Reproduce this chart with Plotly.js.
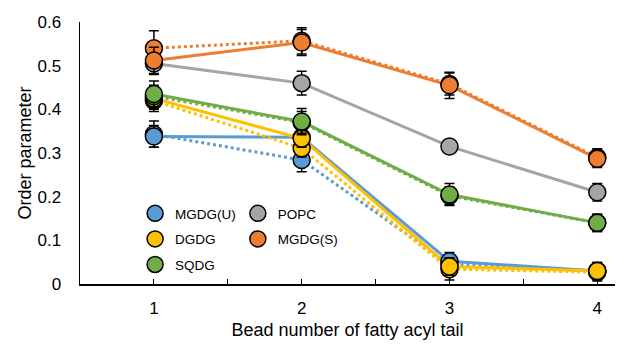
<!DOCTYPE html>
<html>
<head>
<meta charset="utf-8">
<script src="https://cdn.plot.ly/plotly-3.0.1.min.js"></script>
<style>html,body{margin:0;padding:0;background:#fff}#chart{width:630px;height:346px}</style>
</head>
<body>
<div id="chart"></div>
<script>
var beads = [1, 2, 3, 4];
var xTickVals = [1, 2, 3, 4];
var xTickText = ['1', '2', '3', '4'];

var names = ['MGDG(U)', 'DGDG', 'SQDG', 'POPC', 'MGDG(S)'];
var colors = ['#5B9BD5', '#FFC000', '#70AD47', '#A5A5A5', '#ED7D31'];

var mgdgU_solid = [0.338, 0.336, 0.052, 0.030];
var mgdgU_solidErr = [0.025, 0.020, 0.020, 0.015];
var mgdgU_dot = [0.343, 0.284, 0.045, 0.030];
var mgdgU_dotErr = [0.030, 0.027, 0.020, 0.015];

var dgdg_solid = [0.425, 0.333, 0.040, 0.030];
var dgdg_solidErr = [0.025, 0.020, 0.020, 0.020];
var dgdg_dot = [0.420, 0.311, 0.034, 0.027];
var dgdg_dotErr = [0.025, 0.020, 0.025, 0.020];

var sqdg_solid = [0.435, 0.372, 0.205, 0.140];
var sqdg_solidErr = [0.030, 0.030, 0.025, 0.020];
var sqdg_dot = [0.430, 0.370, 0.202, 0.140];
var sqdg_dotErr = [0.025, 0.025, 0.020, 0.020];

var popc_solid = [0.505, 0.460, 0.315, 0.210];
var popc_solidErr = [0.025, 0.027, 0.010, 0.020];

var mgdgS_solid = [0.512, 0.553, 0.455, 0.287];
var mgdgS_solidErr = [0.030, 0.030, 0.030, 0.020];
var mgdgS_dot = [0.540, 0.557, 0.458, 0.290];
var mgdgS_dotErr = [0.040, 0.030, 0.025, 0.020];

var series = [
  {solid: mgdgU_solid, solidErr: mgdgU_solidErr, dot: mgdgU_dot, dotErr: mgdgU_dotErr, legend: 'legend'},
  {solid: dgdg_solid, solidErr: dgdg_solidErr, dot: dgdg_dot, dotErr: dgdg_dotErr, legend: 'legend'},
  {solid: sqdg_solid, solidErr: sqdg_solidErr, dot: sqdg_dot, dotErr: sqdg_dotErr, legend: 'legend'},
  {solid: popc_solid, solidErr: popc_solidErr, dot: null, dotErr: null, legend: 'legend2'},
  {solid: mgdgS_solid, solidErr: mgdgS_solidErr, dot: mgdgS_dot, dotErr: mgdgS_dotErr, legend: 'legend2'}
];

var traces = [];
// lines
series.forEach(function (s, i) {
  if (s.dot) {
    traces.push({x: beads, y: s.dot, mode: 'lines', type: 'scatter', showlegend: false, hoverinfo: 'skip',
      line: {color: colors[i], width: 3, dash: 'dot'}});
  }
  traces.push({x: beads, y: s.solid, mode: 'lines', type: 'scatter', showlegend: false, hoverinfo: 'skip',
    line: {color: colors[i], width: 3}});
});
// markers
series.forEach(function (s, i) {
  var mk = {color: colors[i], size: 17, line: {color: '#000', width: 1.5}};
  var eb = function (arr) { return {type: 'data', array: arr, visible: true, color: '#000', thickness: 1.5, width: 5}; };
  if (s.dot) {
    traces.push({x: beads, y: s.dot, mode: 'markers', type: 'scatter', showlegend: false,
      marker: mk, error_y: eb(s.dotErr)});
  }
  traces.push({x: beads, y: s.solid, mode: 'markers', type: 'scatter', name: names[i],
    legend: s.legend, legendgroup: 'g' + i,
    marker: mk, error_y: eb(s.solidErr)});
});

var legendBase = {
  orientation: 'v', xanchor: 'left', yanchor: 'top', itemwidth: 30,
  traceorder: 'grouped', tracegroupgap: 5,
  font: {size: 13.5, color: '#000', family: 'Liberation Sans, Arial, sans-serif'},
  bgcolor: 'rgba(0,0,0,0)'
};

var layout = {
  width: 630, height: 346,
  margin: {l: 80, r: 15, t: 22, b: 62},
  paper_bgcolor: '#fff', plot_bgcolor: '#fff',
  font: {family: 'Liberation Sans, Arial, sans-serif', color: '#000', size: 17},
  showlegend: true,
  legend: Object.assign({}, legendBase, {x: 0.103, y: 0.328}),
  legend2: Object.assign({}, legendBase, {x: 0.295, y: 0.328}),
  xaxis: {
    range: [0.5, 4.12], tickvals: xTickVals, ticktext: xTickText,
    ticks: 'inside', ticklen: 5, tickwidth: 1, tickcolor: '#000',
    minor: {dtick: 0.5, tick0: 0.5, ticks: 'inside', ticklen: 5, tickwidth: 1, tickcolor: '#000', showgrid: false},
    showline: true, linecolor: '#000', linewidth: 2, showgrid: false, zeroline: false,
    tickfont: {size: 17}, ticklabelstandoff: 8,
    title: {text: 'Bead number of fatty acyl tail', font: {size: 18}, standoff: 6}
  },
  yaxis: {
    range: [0, 0.6], dtick: 0.1, tick0: 0,
    ticks: '', showline: true, linecolor: '#000', linewidth: 1.5, showgrid: false, zeroline: false,
    tickfont: {size: 17}, ticklabelstandoff: 14,
    title: {text: 'Order parameter', font: {size: 18}, standoff: 1}
  }
};

Plotly.newPlot('chart', traces, layout, {displayModeBar: false, staticPlot: true});
</script>
</body>
</html>
